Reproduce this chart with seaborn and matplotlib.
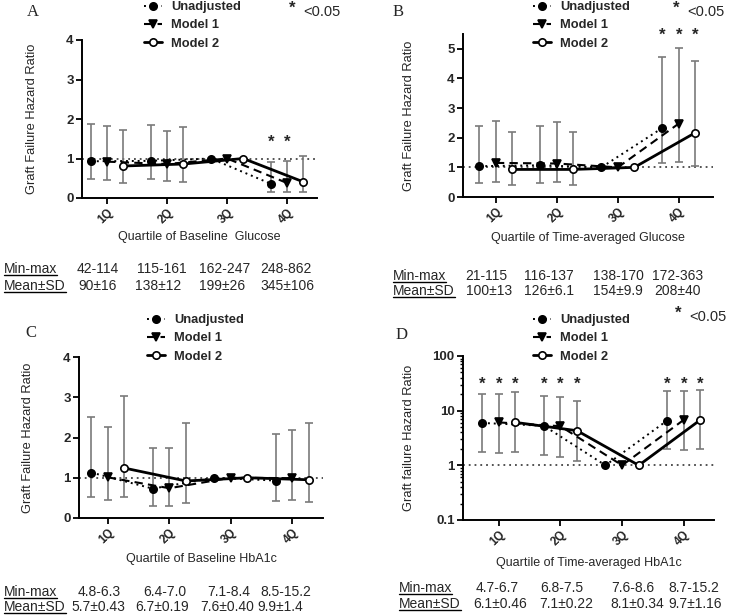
import numpy as np
import pandas as pd
import matplotlib
matplotlib.use("Agg")
import matplotlib.pyplot as plt
import seaborn as sns
from matplotlib.lines import Line2D

quartiles = ["1Q", "2Q", "3Q", "4Q"]
models = ["Unadjusted", "Model 1", "Model 2"]
nan = np.nan

# ---- A: baseline glucose (rows = models, cols = quartiles) ----
a_hr = [[0.93, 0.94, 1.0, 0.36], [0.92, 0.86, 1.0, 0.38], [0.81, 0.86, 1.0, 0.41]]
a_lo = [[0.47, 0.47, nan, 0.14], [0.45, 0.42, nan, 0.14], [0.39, 0.41, nan, 0.15]]
a_hi = [[1.88, 1.86, nan, 0.92], [1.82, 1.69, nan, 0.93], [1.71, 1.80, nan, 1.07]]
a_sig = [[0, 0, 0, 1], [0, 0, 0, 1], [0, 0, 0, 0]]
a_minmax = ["42-114", "115-161", "162-247", "248-862"]
a_meansd = ["90±16", "138±12", "199±26", "345±106"]

# ---- B: time-averaged glucose ----
b_hr = [[1.04, 1.07, 1.0, 2.33], [1.15, 1.13, 1.0, 2.48], [0.93, 0.93, 1.0, 2.17]]
b_lo = [[0.48, 0.48, nan, 1.15], [0.50, 0.50, nan, 1.19], [0.41, 0.42, nan, 1.05]]
b_hi = [[2.38, 2.40, nan, 4.74], [2.55, 2.53, nan, 5.03], [2.21, 2.20, nan, 4.58]]
b_sig = [[0, 0, 0, 1], [0, 0, 0, 1], [0, 0, 0, 1]]
b_minmax = ["21-115", "116-137", "138-170", "172-363"]
b_meansd = ["100±13", "126±6.1", "154±9.9", "208±40"]

# ---- C: baseline HbA1c ----
c_hr = [[1.13, 0.73, 1.0, 0.93], [1.01, 0.74, 1.0, 0.99], [1.24, 0.92, 1.0, 0.95]]
c_lo = [[0.51, 0.31, nan, 0.42], [0.44, 0.31, nan, 0.45], [0.51, 0.37, nan, 0.39]]
c_hi = [[2.52, 1.73, nan, 2.08], [2.27, 1.73, nan, 2.19], [3.04, 2.35, nan, 2.37]]
c_sig = [[0, 0, 0, 0], [0, 0, 0, 0], [0, 0, 0, 0]]
c_minmax = ["4.8-6.3", "6.4-7.0", "7.1-8.4", "8.5-15.2"]
c_meansd = ["5.7±0.43", "6.7±0.19", "7.6±0.40", "9.9±1.4"]

# ---- D: time-averaged HbA1c ----
d_hr = [[5.96, 5.3, 1.0, 6.6], [6.1, 5.2, 1.0, 6.8], [6.1, 4.3, 1.0, 6.8]]
d_lo = [[1.76, 1.52, nan, 2.0], [1.71, 1.42, nan, 1.94], [1.76, 1.22, nan, 2.0]]
d_hi = [[20.4, 18.8, nan, 23.2], [20.4, 17.8, nan, 22.5], [21.6, 15.2, nan, 24.2]]
d_sig = [[1, 1, 0, 1], [1, 1, 0, 1], [1, 1, 0, 1]]
d_minmax = ["4.7-6.7", "6.8-7.5", "7.6-8.6", "8.7-15.2"]
d_meansd = ["6.1±0.46", "7.1±0.22", "8.1±0.34", "9.7±1.16"]

W, H = 732, 616


def fx(px):
    return px / W


def fy(py):
    return 1 - py / H


sns.set_theme(style="ticks")
plt.rcParams["font.family"] = ["Liberation Sans", "DejaVu Sans"]

fig = plt.figure(figsize=(W / 100, H / 100), dpi=100)

offsets = [-0.27, 0.0, 0.27]
styles = {
    "Unadjusted": dict(linestyle=(0, (1, 2)), marker="o", markerfacecolor="black", linewidth=1.4),
    "Model 1": dict(linestyle=(0, (4, 2.5)), marker="v", markerfacecolor="black", linewidth=1.5),
    "Model 2": dict(linestyle="-", marker="o", markerfacecolor="white", linewidth=2.0),
}
msize = 5.3

panels = [
    dict(letter="A", hr=a_hr, lo=a_lo, hi=a_hi, sig=a_sig, minmax=a_minmax, meansd=a_meansd,
         rect=(82, 40, 317, 198), xlim=(-0.42, 3.5), ylim=(0, 4), log=False,
         yticks=[0, 1, 2, 3, 4], yticklabels=["0", "1", "2", "3", "4"], star_y=1.42,
         ylabel="Graft Failure Hazard Ratio", xlabel="Quartile of Baseline  Glucose",
         ylab_x=32, xlab_y=237, letter_xy=(27, 12), legend_xy=(144, 1), note_xy=(292, 8),
         tab_x=[[4, 77, 137, 199, 260], [4, 78, 135, 199, 260]], tab_y=[269, 286]),
    dict(letter="B", hr=b_hr, lo=b_lo, hi=b_hi, sig=b_sig, minmax=b_minmax, meansd=b_meansd,
         rect=(463, 34, 713, 197), xlim=(-0.54, 3.56), ylim=(0, 5.5), log=False,
         yticks=[0, 1, 2, 3, 4, 5], yticklabels=["0", "1", "2", "3", "4", "5"], star_y=5.47,
         ylabel="Graft Failure Hazard Ratio", xlabel="Quartile of Time-averaged Glucose",
         ylab_x=409, xlab_y=238, letter_xy=(393, 12), legend_xy=(533, 1), note_xy=(676, 8),
         tab_x=[[393, 465, 524, 593, 652], [393, 466, 524, 593, 654]], tab_y=[276, 291]),
    dict(letter="C", hr=c_hr, lo=c_lo, hi=c_hi, sig=c_sig, minmax=c_minmax, meansd=c_meansd,
         rect=(79, 357, 323, 518), xlim=(-0.47, 3.5), ylim=(0, 4), log=False,
         yticks=[0, 1, 2, 3, 4], yticklabels=["0", "1", "2", "3", "4"], star_y=None,
         ylabel="Graft Failure Hazard Ratio", xlabel="Quartile of Baseline HbA1c",
         ylab_x=28, xlab_y=559, letter_xy=(25, 333), legend_xy=(147, 314), note_xy=None,
         tab_x=[[4, 78, 143, 207, 260], [4, 71, 135, 200, 257]], tab_y=[592, 607]),
    dict(letter="D", hr=d_hr, lo=d_lo, hi=d_hi, sig=d_sig, minmax=d_minmax, meansd=d_meansd,
         rect=(463, 356, 714, 520), xlim=(-0.58, 3.49), ylim=(0.1, 100), log=True,
         yticks=[0.1, 1, 10, 100], yticklabels=["0.1", "1", "10", "100"], star_y=31,
         ylabel="Graft failure Hazard Ratio", xlabel="Quartile of Time-averaged HbA1c",
         ylab_x=409, xlab_y=563, letter_xy=(396, 335), legend_xy=(533, 314), note_xy=(678, 313),
         tab_x=[[399, 476, 540, 611, 668], [399, 473, 539, 610, 668]], tab_y=[588, 604]),
]

underline_texts = []
tab_font = dict(fontsize=10, family="Liberation Sans")

for p in panels:
    l, t, r, b = p["rect"]
    ax = fig.add_axes([fx(l), fy(b), (r - l) / W, (b - t) / H])

    rows = []
    for m, name in enumerate(models):
        for q in range(4):
            rows.append(dict(model=name, pos=q + offsets[m], hr=p["hr"][m][q],
                             lo=p["lo"][m][q], hi=p["hi"][m][q], sig=p["sig"][m][q]))
    df = pd.DataFrame(rows)

    # reference line at HR = 1
    ax.axhline(1, color="#444444", ls=(0, (1, 2.2)), lw=1.3, zorder=1)

    ci = df.dropna(subset=["lo"])
    ax.errorbar(ci["pos"], ci["hr"], yerr=[ci["hr"] - ci["lo"], ci["hi"] - ci["hr"]],
                fmt="none", ecolor="#7a7a7a", elinewidth=1.2, capsize=3, capthick=1.2, zorder=2)

    for name in models:
        sub = df[df["model"] == name]
        sns.lineplot(data=sub, x="pos", y="hr", ax=ax, color="black", errorbar=None,
                     markeredgecolor="black", markeredgewidth=1.2, markersize=msize,
                     legend=False, zorder=3, **styles[name])

    if p["star_y"] is not None:
        for _, row in df[df["sig"] == 1].iterrows():
            ax.text(row["pos"], p["star_y"], "*", ha="center", va="center",
                    fontsize=12, fontweight="bold")

    if p["log"]:
        ax.set_yscale("log")
    ax.set_xlim(p["xlim"])
    ax.set_ylim(p["ylim"])
    ax.set_xticks(range(4))
    ax.set_xticklabels(quartiles, rotation=45, ha="right", rotation_mode="anchor",
                       fontsize=8.5, fontweight="bold")
    ax.set_yticks(p["yticks"])
    ax.set_yticklabels(p["yticklabels"], fontsize=9.5, fontweight="bold")
    sns.despine(ax=ax)
    for s in ["left", "bottom"]:
        ax.spines[s].set_linewidth(1.4)
        ax.spines[s].set_color("black")
    ax.tick_params(axis="both", which="major", width=1.3, length=4, color="black", pad=2)
    ax.tick_params(axis="y", which="minor", width=1.0, length=2.5, color="black")

    ax.set_ylabel(p["ylabel"], fontsize=9.3)
    ax.yaxis.label.set_va("center")
    ax.yaxis.set_label_coords((p["ylab_x"] - l) / (r - l), 0.5)
    ax.set_xlabel(p["xlabel"], fontsize=9)
    ax.xaxis.label.set_va("center")
    ax.xaxis.set_label_coords(0.5, -(p["xlab_y"] - b) / (b - t))

    handles = [Line2D([], [], color="black", markeredgecolor="black", markeredgewidth=1.2,
                      markersize=msize, **styles[m]) for m in models]
    ax.legend(handles, models, loc="upper left",
              bbox_to_anchor=(fx(p["legend_xy"][0]), fy(p["legend_xy"][1])),
              bbox_transform=fig.transFigure, frameon=False,
              prop=dict(weight="bold", size=9.3), handlelength=1.4, handletextpad=0.7,
              labelspacing=0.48, borderpad=0, borderaxespad=0)

    fig.text(fx(p["letter_xy"][0]), fy(p["letter_xy"][1]), p["letter"], ha="left", va="center",
             fontsize=12, family="Liberation Serif")

    if p["note_xy"] is not None:
        nx, ny = p["note_xy"]
        fig.text(fx(nx), fy(ny), "*", ha="center", va="center", fontsize=12, fontweight="bold")
        fig.text(fx(nx + 11), fy(ny + 4), "<0.05", ha="left", va="center", fontsize=10.5,
                 family="Liberation Sans")

    # quartile range table under each panel
    for xs, ty, label, vals in zip(p["tab_x"], p["tab_y"], ["Min-max", "Mean±SD"],
                                   [p["minmax"], p["meansd"]]):
        t0 = fig.text(fx(xs[0]), fy(ty), label, ha="left", va="center", **tab_font)
        underline_texts.append(t0)
        for x0, v in zip(xs[1:], vals):
            fig.text(fx(x0), fy(ty), v, ha="left", va="center", **tab_font)

fig.canvas.draw()
renderer = fig.canvas.get_renderer()
for t0 in underline_texts:
    bb = t0.get_window_extent(renderer)
    x0, x1 = bb.x0 / W, bb.x1 / W
    yl = (bb.y0 + 1.0) / H
    fig.add_artist(Line2D([x0, x1], [yl, yl], color="black", lw=1.0, transform=fig.transFigure))

fig.savefig("out.png", dpi=100)
